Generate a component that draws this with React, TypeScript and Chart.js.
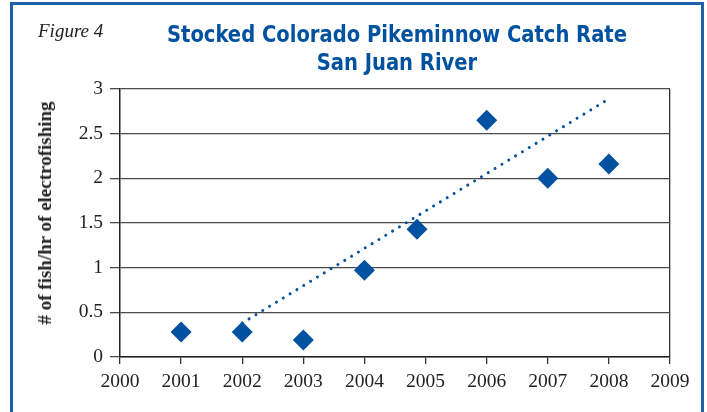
import React, { useEffect, useRef } from "react";
import { Chart, registerables } from "chart.js";

Chart.register(...registerables);

// ---- data ----
const figureLabel = "Figure 4";
const titleLines = ["Stocked Colorado Pikeminnow Catch Rate", "San Juan River"];
const yAxisTitle = "# of fish/hr of electrofishing";
const sampleYears = [2001, 2002, 2003, 2004, 2004.86, 2006, 2007, 2008];
const catchRate = [0.28, 0.28, 0.19, 0.97, 1.43, 2.65, 2.0, 2.16];
const trendYears = [2002, 2008];
const trendValues = [0.38, 2.89];
const xMin = 2000;
const xMax = 2009;
const yMin = 0;
const yMax = 3;
const yStep = 0.5;

const BLUE = "#00519F";
const FRAME = "#1F60AA";
const SERIF = "'Liberation Serif', 'Times New Roman', serif";
const TITLE_WIDTH = 460;

export default function App() {
  const canvasRef = useRef<HTMLCanvasElement | null>(null);
  const titleRef = useRef<HTMLDivElement | null>(null);
  const line1Ref = useRef<HTMLSpanElement | null>(null);

  useEffect(() => {
    if (titleRef.current && line1Ref.current) {
      const w = line1Ref.current.getBoundingClientRect().width;
      if (w > 0) {
        titleRef.current.style.transform = `scaleX(${TITLE_WIDTH / w})`;
      }
    }
    const canvas = canvasRef.current;
    if (!canvas) return;
    const chart = new Chart(canvas, {
      type: "scatter",
      data: {
        datasets: [
          {
            label: "Catch rate",
            data: sampleYears.map((x, i) => ({ x, y: catchRate[i] })),
            pointStyle: "rectRot",
            pointRadius: 10.5,
            pointHoverRadius: 10.5,
            backgroundColor: BLUE,
            borderColor: BLUE,
            pointBorderWidth: 0,
            showLine: false,
          },
          {
            label: "Trend",
            data: trendYears.map((x, i) => ({ x, y: trendValues[i] })),
            showLine: true,
            borderColor: BLUE,
            borderWidth: 3,
            borderDash: [0.01, 8],
            borderCapStyle: "round",
            pointRadius: 0,
            fill: false,
          },
        ],
      },
      options: {
        responsive: false,
        animation: false,
        devicePixelRatio: 1,
        layout: { padding: { left: 0, top: 89, right: 37, bottom: 0 } },
        plugins: {
          legend: { display: false },
          tooltip: { enabled: false },
          title: { display: false },
        },
        scales: {
          x: {
            type: "linear",
            min: xMin,
            max: xMax,
            afterFit: (s: any) => {
              s.height = 412 - 357;
            },
            ticks: {
              stepSize: 1,
              color: "#222",
              padding: 6,
              font: { family: SERIF, size: 19.5 },
              callback: (v: any) => String(v),
            },
            grid: {
              color: (ctx: any) => (ctx.index === 9 ? "#333" : "rgba(0,0,0,0)"),
              tickColor: "#333",
              tickLength: 7,
              lineWidth: 1.3,
            },
            border: { display: true, color: "#222", width: 1.5 },
          },
          y: {
            min: yMin,
            max: yMax,
            afterFit: (s: any) => {
              s.width = 120;
            },
            ticks: {
              stepSize: yStep,
              color: "#222",
              padding: 7,
              font: { family: SERIF, size: 19.5 },
              callback: (v: any) => String(v),
            },
            grid: {
              color: "#4a4a4a",
              tickColor: "#4a4a4a",
              tickLength: 10,
              lineWidth: 1.3,
            },
            border: { display: true, color: "#222", width: 1.5 },
          },
        },
      },
    } as any);
    return () => chart.destroy();
  }, []);

  return (
    <div
      style={{
        position: "fixed",
        left: 0,
        top: 0,
        width: 707,
        height: 412,
        background: "#fff",
        overflow: "hidden",
      }}
    >
      <div
        style={{
          position: "absolute",
          left: 10,
          top: 2,
          width: 688,
          height: 440,
          border: `3px solid ${FRAME}`,
        }}
      />
      <canvas
        ref={canvasRef}
        width={707}
        height={412}
        style={{ position: "absolute", left: 0, top: 0, width: 707, height: 412 }}
      />
      <div
        style={{
          position: "absolute",
          left: 38,
          top: 21,
          fontFamily: SERIF,
          fontStyle: "italic",
          fontSize: 19,
          lineHeight: "19px",
          color: "#222",
          whiteSpace: "nowrap",
        }}
      >
        {figureLabel}
      </div>
      <div
        ref={titleRef}
        style={{
          position: "absolute",
          left: 97,
          top: 20,
          width: 600,
          textAlign: "center",
          transformOrigin: "300px 0px",
          fontFamily: "'Liberation Sans Narrow', 'DejaVu Sans Condensed', 'Open Sans', sans-serif",
          fontWeight: "bold",
          fontSize: 23.5,
          lineHeight: "28px",
          color: BLUE,
          whiteSpace: "nowrap",
        }}
      >
        <div>
          <span ref={line1Ref}>{titleLines[0]}</span>
        </div>
        <div>
          <span>{titleLines[1]}</span>
        </div>
      </div>
      <div
        style={{
          position: "absolute",
          left: 45,
          top: 213,
          transform: "translate(-50%, -50%) rotate(-90deg)",
          fontFamily: SERIF,
          fontWeight: "bold",
          fontSize: 19,
          lineHeight: "22px",
          color: "#222",
          whiteSpace: "nowrap",
        }}
      >
        {yAxisTitle}
      </div>
    </div>
  );
}
